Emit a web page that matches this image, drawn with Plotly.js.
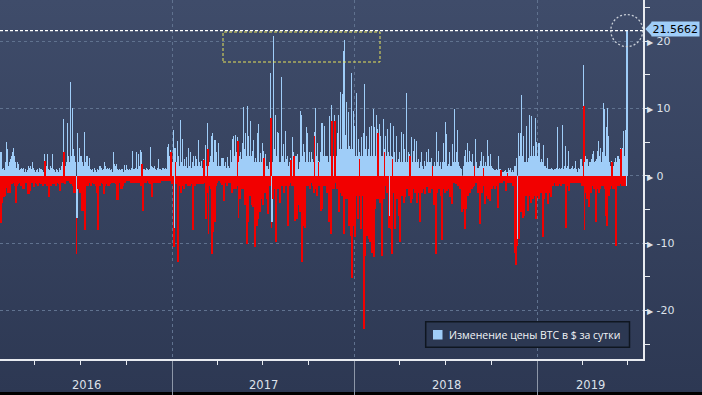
<!DOCTYPE html>
<html><head><meta charset="utf-8">
<script src="https://cdn.plot.ly/plotly-3.0.1.min.js"></script>
<style>
html,body{margin:0;padding:0;}
body{width:702px;height:395px;overflow:hidden;background:linear-gradient(to bottom,#3f4c6a 0px,#2d3853 392px,#000 392px,#000 395px);}
#chart{width:702px;height:395px;}
</style></head><body><div id="chart"></div>
<script>
// ---- DATA (daily BTC price change) ----
const startDate = '2016-01-23';
const btc2016 = [
3.6,-7, 3.6,-4, 1.0,-3.2, 1.2,-3.2, 0.8,-3, 2.0,-1.5, 5.0,-1.8, 4.0,-2.5, 1.5,-2.5, 2.0,-2.5,
2.5,-1, 3.0,-1.2, 3.5,-0.8, 4.2,-1, 3.0,-1.5, 2.0,-4, 1.2,-1.5, 2.0,-1.2, 1.8,-0.8, 0.8,-1,
1.0,-1.5, 1.2,-1.5, 1.0,-2, 1.2,-2, 0.6,-1, 1.0,-0.8, 0.5,-1, 0.8,-2.7, 1.5,-2.7, 1.2,-2.2,
1.5,-1, 1.0,-0.8, 2.0,-1, 1.2,-1.7, 0.8,-1, 0.6,-0.8, 0.8,-1.2, 1.0,-1.5, 0.6,-1, 1.2,-0.8,
1.0,-1.2, 1.0,-1, 0.8,-1.5, 0.6,-1.2, 3.2,2.2, 1.5,-1.2, 1.5,-1.5, 3.2,-1, 1.0,-3.1, 0.8,-1,
1.5,-1.5, 1.2,-1, 3.2,-1.2, 1.0,-1, 0.8,-1.2, 0.6,-1.5, 1.0,-1, 0.8,-0.8, 0.6,-1.2, 1.2,-2.3,
0.8,-1, 1.5,-0.8, 2.0,-1, 8.5,3.5, 3.0,-1.2, 1.5,-0.7, 2.0,-0.8, 7.9,-0.7, 3.0,-0.8, 2.0,-1,
13.9,-1.2, 3.0,-1.2, 10.0,-1.5, 4.0,-2.5, 3.0,-2.5, 2.0,-1.5, -11.6,-6.2, 6.3,-2, 2.0,-1.5, 4.2,-2.5,
3.0,-1.5, 3.0,-5.2, 2.0,-5.2, 1.5,-2, 6.5,-8.1, 2.0,-1.5, 3.0,-1.5, 3.0,-1.5, 1.5,-1, 2.7,-1,
1.0,-1.5, 0.8,-1, 1.0,-0.8, 0.6,-1.2, 1.2,-1, 0.8,-1.5, 0.6,-2.5, 1.0,-8, 0.8,-1, 1.4,-1.5,
1.4,-1, 1.2,-0.8, 0.8,-1.2, 1.0,-2.7, 2.0,-1.5, 1.5,-1.2, 1.0,-1, 1.2,-1.5, 1.0,-1.5, 1.2,-1.2,
0.8,-1, 1.0,-0.8, 0.6,-1, 3.5,-1, 1.7,-0.8, 1.5,-1.2, 1.7,-3.6, 1.0,-3.6, 0.8,-1, 1.0,-0.8,
0.8,-1.9, 1.0,-1.9, 1.0,-1.5, 0.6,-0.8, 1.6,-1, 0.8,-0.8, 1.6,-0.8, 1.0,-0.8, 0.8,-0.6, 1.0,-0.8,
0.8,-1, 1.2,-0.8, 3.7,-1, 1.0,-0.8, 1.0,-1, 1.2,-1, 3.5,-1, 1.0,-1, 3.2,-0.8, 1.5,-1,
3.8,-1.5, 3.5,1.8, 1.5,-5.2, 1.0,-1, 1.0,-0.8, 0.8,-1, 1.2,-0.8, 1.0,-0.6, 0.8,-1, 1.0,-1.2,
4.3,-1, 1.5,-3.2, 1.3,-1, 1.2,-0.8, 1.4,-1, 1.0,-1, 0.8,-1, 1.2,-0.8, 2.5,-1, 1.0,-1,
1.0,-0.8, 0.8,-0.6, 1.2,-0.8, 1.2,-0.6, 1.0,-0.8, 1.2,-0.7, 1.0,-0.7, 4.3,-0.7, 4.7,-0.6, 3.0,-0.7,
3.8,3.5, 1.5,-1.2
];
const btc2017 = [
2.0,-1, 6.8,-10.6, -7.7,4.2, 2.0,-1.2, 2.0,-1, 5.2,-12.8, 3.0,-1.5, 1.5,-1.2, 8.3,-2.5, 2.0,-1.5,
5.4,-1.5, 1.5,-2, 2.5,-1, 1.5,-1.2, 2.8,-1, 1.2,-1.5, 4.1,-1.5, 1.5,-1.5, 3.5,-1.2, 1.2,-1,
2.0,-8.1, 3.0,-1.2, 1.5,-1.5, 3.0,-1, 2.5,-1.2, 1.5,-1.2, 5.3,-1.2, 2.0,-1, 1.5,-1.2, 2.2,-1.2,
1.2,-1.2, 2.5,2.3, 1.5,-1, 4.5,-6.4, 1.5,-2.5, 7.8,4.0, -8.6,1.5, 2.0,-1.5, 3.0,-2, 5.9,-11.6,
6.4,-8.4, 2.0,-1.5, 5.3,-6.9, 5.3,-1.5, 3.6,-1, 1.5,-0.8, 4.9,-0.8, 1.5,-0.8, 1.5,-1, 2.7,-1.4,
2.7,-1, 2.7,-3.7, 1.5,-1, 2.0,-1, 1.2,-1.5, 2.8,-1, 1.5,-1, 1.2,-0.8, 3.8,-1, 2.0,-2.5,
5.4,-2, 5.9,-2, 3.0,-2, 6.0,-2, 3.5,-1.5, 5.8,5.2, -6.2,2.0, 3.0,-3.5, 3.6,-1.5, 2.5,-2,
4.9,-1.5, 10.2,-2, 4.0,-4.4, 6.4,-2, 3.0,-10.1, 10.4,-6.9, 5.9,-2, 3.0,-3, 8.1,-2, 3.0,-4.4,
3.7,-4.7, 5.3,-2, 2.0,-10.6, 2.7,-2, 2.0,-7.4, 6.3,-6.4, 7.7,-2, 2.0,-5.4, 3.4,-2, 2.0,-3.5,
4.9,-4.4, 3.7,2.7, 2.0,-2.5, 3.2,-2, 1.5,-3.5, 1.5,-5.7, 1.0,-1.5, 2.0,-1.5, 15.3,8.6, -7.7,-6.9,
2.0,-3.5, 20.7,-2, 4.0,-1.5, 9.1,-9.9, 3.0,-2, 6.5,-1.5, 6.4,-2, 2.0,-4, 2.0,-1.5, 14.6,-1,
3.0,-1.5, 4.7,-2.5, 2.0,-1.5, 6.7,-1.5, 2.5,-1.5, 3.0,-7.4, 1.5,-1.5, 2.0,-1, 2.6,2.4, 2.0,-1.5,
5.7,-1.5, 3.5,3.0, 2.0,-6.7, 3.0,-2, 3.0,-6.4, 3.2,-4.4, 1.0,-2, 2.0,-5.4, 9.6,-2, 9.1,-12.8,
3.0,-7.4, 4.7,-3, 3.5,-7.7, 2.0,-1.5, 7.2,-1.5, 6.4,-1.2, 2.0,-1.5, 3.6,-2, 2.0,-1, 3.6,-1,
2.5,-1.5, 2.0,-2.5, 6.5,5.9, 10.1,-2, 3.0,-3, 4.9,-1.5, 2.2,2.0, 2.0,-1.5, 3.5,-5.2, 7.8,-4.9,
7.8,-1.5, 3.0,-1.5, 7.4,-1, 3.0,-1.5, 3.0,-2.5, 3.0,-1.5, 2.0,-6.9, 8.9,-2, 3.0,-8.6, 10.5,8.1,
4.0,-2, 3.0,-2, 9.0,8.1, 7.4,-1, 3.0,-2, 6.4,-2, 9.1,-5.4, 4.0,-2.5, 12.4,-2, 4.0,-3,
12.1,-2, 18.5,-8.6, 20.2,-3, 6.0,-3.5, 10.9,-3, 4.0,-3.5, 9.5,-7.4, 4.4,-2, 4.0,-8.9, 15.3,-15.1,
4.0,-3, 9.6,-7.4, 7.4
];
const btc2018 = [
-9.1, 3.0,-2.5, 12.3,-3, 3.0,-6.4, 5.4,-3, 3.5,2.5, 3.0,-7.9, 5.7,-2, 3.0,-3, 6.4,-22.7,
13.6,-11.9, 4.0,-5, 5.9,-8.9, 3.0,-4, 4.0,-9.4, 7.2,-9.9, 3.0,-4, 7.4,-11.4, 3.0,-5, 9.9,-12.1,
7.2,-4.9, 3.0,-3, 9.1,-3.5, 7.0,6.4, 3.0,-3.5, 7.7,-4, 5.9,-3, 3.0,-11.9, 3.0,-3, 8.4,-3.5,
4.0,3.5, 5.9,-1.5, 3.0,-2.5, 6.9,-2, 3.6,-7.7, -6.0,3.0, 7.9,-7.9, 3.0,-11.6, 2.8,2.5, 7.4,-2.5,
3.5,-7.9, 2.0,-2, 5.9,-3.5, 2.0,-2, 2.5,-5.9, 3.5,-9.9, 2.0,-2, 6.5,-3, 2.0,-2, 6.2,-4,
4.0,-3.2, 2.0,-2, 12.3,-2, 2.0,-1.5, 3.5,-3, 3.2,3.0, 2.0,-4, 5.7,-3.5, 2.0,-2, 3.7,-2,
5.4,-2.5, 2.0,-2, 5.2,-4, 2.0,-2, 2.5,-2.5, 1.2,-6.9, 2.0,-2, 3.6,-2.5, 1.5,-1.5, 1.0,-2,
2.2,-2.7, 1.5,-1.5, 3.5,-1.7, 2.0,-1.5, 4.0,-2.5, 2.0,-2.5, 2.0,-1.5, 2.7,-2, 1.5,1.4, 1.5,-4.4,
2.0,-1.5, 1.5,-11.6, 6.5,-2.5, 2.0,-1.5, 3.7,-2, 1.5,-1.5, 2.0,-3, 1.0,-9.6, 2.0,-2, 4.9,-1.5,
2.0,-2.5, 8.0,-1.5, 6.2,-2.2, 1.5,-2, 1.7,-1.5, 3.6,-3.2, 1.5,-1.5, 1.5,-4.2, 4.7,-1, 2.0,-1,
9.9,-1, 2.0,-1.2, 3.5,-1, 6.8,-1.5, 2.0,-1.5, 1.5,-2, 1.2,-1.5, 1.0,-5.4, -2.5,-4.9, 1.5,-2,
2.9,-7.9, 3.9,-4.9, 2.0,-2, 4.9,-3, 2.0,-2, 3.7,-2.5, 2.2,-2, 2.0,-2, 3.2,-1.7, 1.5,-1.5,
1.5,1.4, 5.4,-1, 2.0,-1, 1.2,-2.5, 1.2,-1.5, 1.5,-7.2, 2.2,-1.5, 3.5,-2.5, 1.5,-1.5, 3.0,1.2,
1.5,-4.2, 2.0,-2, 1.5,-3, 5.3,-3.5, 3.0,-2, 1.5,-3.7, 3.2,-2, 1.5,-2, 1.2,-1.5, 1.0,-1.5,
0.8,-2, 0.8,-1, 1.0,-1.5, 0.8,-4.8, 3.0,-1, 1.0,-1, 1.0,0.9, 0.8,-1, 0.5,-0.8, 0.5,-0.8,
0.7,-0.7, 0.8,-2.2, 0.5,-1, 0.5,0.4, 1.2,-1, 0.8,-0.8, 1.2,-1, 0.6,-1, 0.8,-1.5, 0.5,-1.5,
1.5,-11.4, 1.5,-13.3, 2.6,-4, -10.4,-9.4, 6.4,-9.4, 3.0,-3, 6.3,-5.4, 12.0,-3, 3.0,-6.2, 5.9,-5.9,
2.0,-2.5, 2.0,-3, 7.4,-2.5, 2.0,-5.2, 2.7,-3, 9.1,-2, 3.0,-4, 8.9,-2, 3.0,-3.5, 4.4,-3,
3.0,-2, 8.6,-6.4, 5.0,-3
];
const btc2019 = [
3.0,-2, 4.9,-3.5, 4.9,-2, 2.0,-2.5, 2.5,-2, 2.0,-9.1, 4.5,-3.5, 1.5,-2, 1.5,-2.5, 1.2,-1.5,
2.7,-4.2, 1.0,-2.5, 1.0,-1.5, 1.0,-3.2, 1.2,-1.5, 1.0,-1.5, 0.8,-1, 1.0,-1, 1.0,-1.5, 1.2,-1,
7.3,-1.5, 1.0,-1, 1.2,-1.2, 1.0,-1.5, 1.2,-1, 7.5,-1.2, 1.0,-1, 1.5,-1.2, 4.4,-7.7, 1.2,-1,
1.5,-1.5, 3.7,-2.2, 1.0,-1, 1.0,-1, 1.2,-1, 1.5,-1, 1.0,-1, 1.2,-1, 2.2,-1, 1.0,-1,
0.5,-1, 1.2,-1, 1.0,-1, 2.5,-1, 2.5,-1.5, 1.5,-1.5, 16.4,10.4, -8.1,2.0, 3.0,-2.5, 2.5,-3.5,
2.5,-2, 1.5,-4.7, 2.0,-2.5, 2.0,-2.5, 2.5,-1.5, 3.2,-1.5, 3.7,-2, 2.0,-2, 2.2,-6.9, 2.5,-2,
3.7,-2, 5.2,-2.5, 3.0,-2, 4.2,-1, 2.0,-1.5, 3.5,-1.5, 10.8,-1.5, 9.9,-2, 3.0,-5.9, 7.2,-7.4,
10.1,-3, 5.9,-3, 2.0,-2, 1.5,-1.5, 2.2,2.0, 1.5,-2, 1.5,-2, 2.0,-2, 2.7,-10.4, 2.0,-1.5,
3.0,-1.5, 3.0,-1.5, 2.5,-1.2, 4.2,4.0, 2.0,-1.5, 4.2,-1.5, 6.7,-1.5, 3.0,-1.5, 6.8,-1.5, -1.5,21.5662
];
const seriesName = 'Изменение цены BTC в $ за сутки';
const yearLabels = ['2016', '2017', '2018', '2019'];
const yTicks = [-20, -10, 0, 10, 20];
const xRange = ['2016-01-22 09:36', '2019-07-31 09:36'];
const yRange = [-27.2, 26.1];

// ---- STYLE ----
const BLUE = '#9fcdf8';
const RED = '#f20000';
const W = 643, H = 359;           // plot area in px
const TXT = '#dde2ea';

const values = [].concat(btc2016, btc2017, btc2018, btc2019);
const DAY = 86400000;
const t0 = Date.parse(startDate + 'T00:00:00Z');
const iso = t => new Date(t).toISOString().slice(0, 10);
const dates = values.map((v, i) => iso(t0 + i * DAY));
const colors = values.map((v, i) => ((i === 0 ? v >= 0 : v >= values[i - 1]) ? BLUE : RED));

const lastVal = values[values.length - 1];
const lastDate = dates[dates.length - 1];

// year boundaries & label positions (middle of visible part of each year)
const r0 = Date.parse(xRange[0].replace(' ', 'T') + 'Z'), r1 = Date.parse(xRange[1].replace(' ', 'T') + 'Z');
const yearStarts = yearLabels.map(y => Date.parse(y + '-01-01T00:00:00Z'));
const yearTickVals = yearStarts.filter(t => t > r0 && t < r1).map(iso);
const yearMid = yearLabels.map(y => {
  const a = Math.max(r0, Date.parse(y + '-01-01T00:00:00Z'));
  const b = Math.min(r1, Date.parse((+y + 1) + '-01-01T00:00:00Z'));
  return new Date((a + b) / 2).toISOString();
});

const px = p => p / W;            // px -> paper x
const py = p => 1 - p / H;        // px -> paper y
const yPerPx = (yRange[1] - yRange[0]) / H;
const calloutShift = 1.5;         // px, callout box sits slightly above the level

const trace = {
  type: 'bar', x: dates, y: values, name: seriesName,
  width: DAY, marker: {color: colors, line: {width: 0}},
  showlegend: false, hoverinfo: 'x+y'
};

const cy = lastVal + calloutShift * yPerPx;
const shapes = [
  {type: 'line', xref: 'paper', yref: 'y', x0: 0, x1: px(645), y0: lastVal, y1: lastVal,
   line: {color: '#ffffff', width: 1.3, dash: '3px,2px'}},
  {type: 'circle', xref: 'x', yref: 'y', xsizemode: 'pixel', ysizemode: 'pixel',
   xanchor: lastDate, yanchor: lastVal, x0: -16, x1: 16, y0: -16, y1: 16,
   line: {color: '#c9cfd8', width: 1.3, dash: '2px,2px'}},
  {type: 'rect', xref: 'paper', yref: 'paper', x0: px(223), x1: px(380), y0: py(62), y1: py(32),
   line: {color: '#e6e25a', width: 1, dash: '3px,2px'}},
  {type: 'path', xref: 'paper', yref: 'y', fillcolor: BLUE, line: {width: 0},
   path: `M${px(645.3)},${cy} L${px(652)},${cy + 7 * yPerPx} L${px(652)},${cy - 7 * yPerPx} Z`},
  {type: 'rect', xref: 'paper', yref: 'paper', x0: px(425.7), x1: px(629.5), y0: py(347.3), y1: py(321.7),
   fillcolor: '#2c3852', line: {color: '#0f1620', width: 1.5}},
  {type: 'rect', xref: 'paper', yref: 'paper', x0: px(433), x1: px(442.5), y0: py(339.5), y1: py(330),
   fillcolor: BLUE, line: {width: 0}}
];

const annotations = yearLabels.map((y, i) => ({
  xref: 'x', yref: 'paper', x: yearMid[i], y: py(384.7), text: y, showarrow: false,
  xanchor: 'center', yanchor: 'middle', font: {family: 'DejaVu Sans', size: 11.5, color: TXT}
}));
annotations.push({
  xref: 'paper', yref: 'y', x: px(651.5), y: lastVal, yshift: calloutShift, text: lastVal.toFixed(4), showarrow: false,
  xanchor: 'left', yanchor: 'middle', bgcolor: BLUE, borderpad: 0.5,
  font: {family: 'DejaVu Sans', size: 11, color: '#000000'}
});
annotations.push({
  xref: 'paper', yref: 'paper', x: px(447), y: py(335), text: seriesName, showarrow: false,
  xanchor: 'left', yanchor: 'middle', font: {family: 'Open Sans', size: 10.5, color: '#f2f4f7'}
});

const layout = {
  width: 702, height: 395,
  margin: {l: 0, r: 59, t: 0, b: 36, pad: 0, autoexpand: false},
  paper_bgcolor: 'rgba(0,0,0,0)', plot_bgcolor: 'rgba(0,0,0,0)',
  barmode: 'overlay', bargap: 0, showlegend: false,
  xaxis: {
    type: 'date', range: xRange, fixedrange: true,
    showline: true, linecolor: '#e8ebf0', linewidth: 1.5,
    tickmode: 'array', tickvals: yearTickVals, showticklabels: false,
    ticks: 'outside', ticklen: 36, tickcolor: '#8d97a8', tickwidth: 1,
    showgrid: true, gridcolor: '#60728f', griddash: 'dot', gridwidth: 1, zeroline: false,
    minor: {dtick: 'M3', tick0: '2016-01-01', ticks: 'outside', ticklen: 4, tickcolor: '#e8ebf0', tickwidth: 1, showgrid: false}
  },
  yaxis: {
    side: 'right', range: yRange, fixedrange: true,
    tickmode: 'array', tickvals: yTicks,
    ticktext: yTicks.map(v => '<span style="font-size:8px">▶</span> ' + String(v)),
    ticks: '', showline: true, linecolor: '#e8ebf0', linewidth: 1.5,
    showgrid: true, gridcolor: '#60728f', griddash: 'dot', gridwidth: 1, zeroline: false,
    tickfont: {family: 'DejaVu Sans', size: 11, color: TXT},
    minor: {dtick: 5, tick0: 0, ticks: 'outside', ticklen: 5, tickcolor: '#e8ebf0', tickwidth: 1, showgrid: false}
  },
  shapes: shapes, annotations: annotations
};

Plotly.newPlot('chart', [trace], layout, {displayModeBar: false, responsive: false});
</script></body></html>
